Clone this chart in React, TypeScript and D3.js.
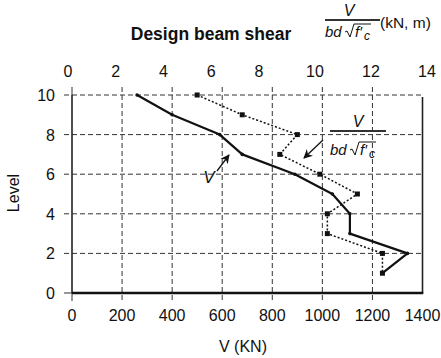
import React from "react";
import * as d3 from "d3";

const levels = [10, 9, 8, 7, 6, 5, 4, 3, 2, 1];
const shearKN = [260, 400, 590, 680, 890, 1040, 1110, 1110, 1340, 1240];
const normShear = [5.0, 6.8, 9.0, 8.3, 9.9, 11.4, 10.2, 10.2, 12.4, 12.4];
const bottomTicks = [0, 200, 400, 600, 800, 1000, 1200, 1400];
const topTicks = [0, 2, 4, 6, 8, 10, 12, 14];
const levelTicks = [0, 2, 4, 6, 8, 10];

const W = 441;
const H = 358;
const FONT = "'Liberation Sans', Arial, Helvetica, sans-serif";

function Fraction({ cx, numY, lineY, denY, x0, x1 }: { cx: number; numY: number; lineY: number; denY: number; x0: number; x1: number }) {
  const bx = x0;
  return (
    <g fontFamily={FONT} fill="#111">
      <text x={cx} y={numY} fontSize={16} fontStyle="italic" textAnchor="middle">V</text>
      <line x1={x0} x2={x1} y1={lineY} y2={lineY} stroke="#333" strokeWidth={2} />
      <text x={bx} y={denY} fontSize={15} fontStyle="italic">bd</text>
      <path d={`M${bx + 20},${denY - 5} L${bx + 22},${denY - 6} L${bx + 25},${denY} L${bx + 29},${denY - 13} L${bx + 46},${denY - 13}`} fill="none" stroke="#111" strokeWidth={1} />
      <text x={bx + 30} y={denY} fontSize={15} fontStyle="italic">f′</text>
      <text x={bx + 39} y={denY + 3} fontSize={12} fontStyle="italic">c</text>
    </g>
  );
}

export default function App() {
  const x = d3.scaleLinear().domain([0, 1400]).range([72, 422.5]);
  const xTop = d3.scaleLinear().domain([0, 14]).range([72, 422.5]);
  const xTopLabel = d3.scaleLinear().domain([0, 8, 14]).range([68, 259, 427]);
  const y = d3.scaleLinear().domain([0, 10]).range([293, 95]);

  const solidPts: [number, number][] = levels.map((l, i) => [x(shearKN[i]), y(l)]);
  const dotPts: [number, number][] = levels.map((l, i) => [xTop(normShear[i]), y(l)]);
  const line = d3.line();

  const gridColor = "#333";
  return (
    <svg width={W} height={H} style={{ position: "absolute", left: 0, top: 0, background: "#fff" }}>
      <defs>
        <marker id="ah" viewBox="0 0 10 10" refX="9" refY="5" markerWidth="7" markerHeight="7" orient="auto">
          <path d="M0,0 L10,5 L0,10 L3,5 z" fill="#111" />
        </marker>
      </defs>
      <rect width={W} height={H} fill="#fff" />
      {/* horizontal grid */}
      {levelTicks.filter((l) => l > 0).map((l) => (
        <line key={"h" + l} x1={64} x2={x(1400)} y1={y(l)} y2={y(l)} stroke={gridColor} strokeWidth={1} strokeDasharray="5,3" />
      ))}
      {/* vertical grid */}
      {bottomTicks.filter((t) => t > 0 && t < 1400).map((t) => (
        <line key={"v" + t} x1={x(t)} x2={x(t)} y1={87} y2={301} stroke={gridColor} strokeWidth={1} strokeDasharray="5,3" />
      ))}
      <line x1={x(0)} x2={x(0)} y1={87} y2={95} stroke={gridColor} strokeWidth={1} />
      <line x1={x(0)} x2={x(0)} y1={293} y2={301} stroke={gridColor} strokeWidth={1} />
      <line x1={64} x2={72} y1={y(0)} y2={y(0)} stroke={gridColor} strokeWidth={1} />
      {/* frame */}
      <line x1={x(0)} x2={x(0)} y1={y(10)} y2={y(0)} stroke="#222" strokeWidth={1.6} />
      <line x1={x(1400)} x2={x(1400)} y1={y(10) + 2} y2={y(0)} stroke="#222" strokeWidth={1.6} />
      <line x1={x(0)} x2={x(1400) + 0.8} y1={y(0)} y2={y(0)} stroke="#111" strokeWidth={2.5} />

      {/* solid V line */}
      <path d={line(solidPts) || ""} fill="none" stroke="#111" strokeWidth={2.2} strokeLinejoin="round" />
      {solidPts.map((p, i) => (
        <circle key={"s" + i} cx={p[0]} cy={p[1]} r={1.8} fill="#111" />
      ))}
      {/* dotted normalized line */}
      <path d={line(dotPts) || ""} fill="none" stroke="#111" strokeWidth={1.5} strokeDasharray="2,2" />
      {dotPts.map((p, i) => (
        <rect key={"d" + i} x={p[0] - 2.5} y={p[1] - 2.5} width={5} height={5} fill="#111" />
      ))}

      {/* annotations */}
      <text x={209} y={183} fontFamily={FONT} fontSize={17} fontStyle="italic" textAnchor="middle" fill="#111">V</text>
      <line x1={217} y1={171} x2={229} y2={155} stroke="#111" strokeWidth={1.3} markerEnd="url(#ah)" />
      <Fraction cx={358} numY={127} lineY={131} denY={155} x0={330} x1={386} />
      <line x1={323} y1={140} x2={304} y2={158} stroke="#111" strokeWidth={1.3} markerEnd="url(#ah)" />

      {/* axes labels */}
      <g fontFamily={FONT} fontSize={16} fill="#111">
        {bottomTicks.map((t) => (
          <text key={"bt" + t} x={x(t)} y={321} textAnchor="middle">{t}</text>
        ))}
        {topTicks.map((t) => (
          <text key={"tt" + t} x={xTopLabel(t)} y={77} textAnchor="middle">{t}</text>
        ))}
        {levelTicks.map((l) => (
          <text key={"lt" + l} x={55} y={y(l) + 6} textAnchor="end">{l}</text>
        ))}
        <text x={243} y={352} textAnchor="middle">V (KN)</text>
        <text transform={`translate(19,193) rotate(-90)`} textAnchor="middle">Level</text>
      </g>

      {/* title */}
      <text x={211} y={40} fontFamily={FONT} fontSize={17.5} fontWeight="bold" textAnchor="middle" fill="#111">Design beam shear</text>
      <Fraction cx={349} numY={16} lineY={20} denY={37} x0={325} x1={380} />
      <text x={380} y={28} fontFamily={FONT} fontSize={15.5} fill="#111">(kN, m)</text>
    </svg>
  );
}
